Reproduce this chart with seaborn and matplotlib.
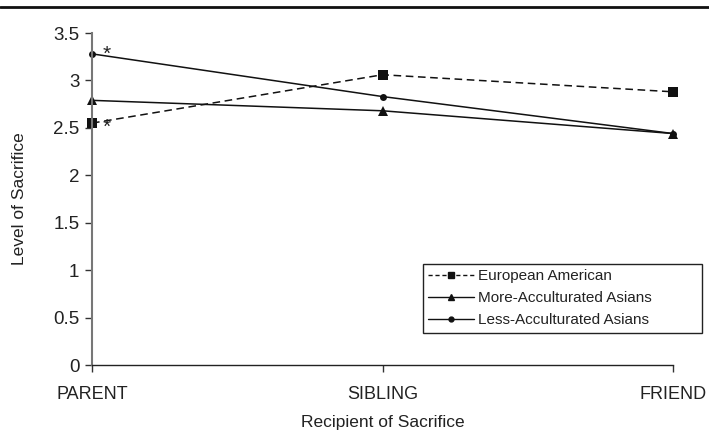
import matplotlib
matplotlib.use("Agg")
import matplotlib.pyplot as plt
import seaborn as sns
import pandas as pd
from matplotlib.lines import Line2D

recipients = ["PARENT", "SIBLING", "FRIEND"]
european_american = [2.55, 3.06, 2.88]
more_acculturated = [2.79, 2.68, 2.44]
less_acculturated = [3.28, 2.83, 2.44]
series_names = ["European American", "More-Acculturated Asians", "Less-Acculturated Asians"]
y_ticks = [0, 0.5, 1, 1.5, 2, 2.5, 3, 3.5]

sns.set_theme(style="white")
plt.rcParams["font.family"] = ["Liberation Sans", "DejaVu Sans"]

rows = []
for name, vals in zip(series_names, [european_american, more_acculturated, less_acculturated]):
    for i, v in enumerate(vals):
        rows.append({"pos": i, "value": v, "group": name})
df = pd.DataFrame(rows)

fig = plt.figure(figsize=(7.09, 4.34), dpi=100)
ax = fig.add_axes([92/709, (434-365)/434, (673-92)/709, (365-33)/434])

sns.lineplot(data=df, x="pos", y="value", hue="group", style="group",
             hue_order=series_names, style_order=series_names,
             palette=["#111111", "#111111", "#111111"],
             markers={"European American": "s", "More-Acculturated Asians": "^",
                      "Less-Acculturated Asians": "o"},
             dashes={"European American": (5, 3), "More-Acculturated Asians": "",
                     "Less-Acculturated Asians": ""},
             markersize=6, linewidth=1.1, markeredgewidth=0, ax=ax, legend=False)

for line, ms in zip(ax.get_lines(), [6.5, 7, 5]):
    line.set_markersize(ms)

ax.set_xlim(0, 2)
ax.set_ylim(0, 3.5)
ax.set_xticks(range(len(recipients)))
ax.set_xticklabels(recipients, fontsize=13, color="#222222")
ax.set_yticks(y_ticks)
ax.set_yticklabels([f"{t:g}" for t in y_ticks], fontsize=13.5, color="#222222")
ax.tick_params(axis="both", direction="out", length=5, width=1, color="#333333",
               bottom=True, left=True, pad=4)
ax.tick_params(axis="x", pad=10)
for s in ["top", "right"]:
    ax.spines[s].set_visible(False)
ax.spines["left"].set_color("#777777")
ax.spines["left"].set_linewidth(1.5)
ax.spines["bottom"].set_color("#222222")
ax.spines["bottom"].set_linewidth(1.0)
ax.set_xlabel("Recipient of Sacrifice", fontsize=12.5, labelpad=9, color="#222222")
ax.set_ylabel("Level of Sacrifice", fontsize=12.5, labelpad=19, color="#222222")
for line in ax.get_lines():
    line.set_clip_on(False)

# asterisks
ax.text(0.05, less_acculturated[0] - 0.01, "*", fontsize=15, ha="center", va="center",
        color="#222222")
ax.text(0.05, european_american[0] - 0.04, "*", fontsize=15, ha="center", va="center",
        color="#222222")

handles = [
    Line2D([], [], color="#111111", linestyle=(0, (3, 2)), marker="s", markersize=4.5, lw=1),
    Line2D([], [], color="#111111", linestyle="-", marker="^", markersize=5, lw=1),
    Line2D([], [], color="#111111", linestyle="-", marker="o", markersize=3.5, lw=1),
]
leg = ax.legend(handles, series_names, loc="upper left",
                bbox_to_anchor=((423-92)/(673-92), (365-264)/(365-33),
                                (702-423)/(673-92), 0.0001),
                mode="expand", fontsize=11, frameon=True, fancybox=False,
                edgecolor="#222222", framealpha=1, handlelength=3.0,
                handletextpad=0.25, borderpad=0.35, labelspacing=0.52,
                borderaxespad=0)
leg.get_frame().set_linewidth(1.0)
for t in leg.get_texts():
    t.set_color("#222222")

fig.add_artist(Line2D([0, 1], [(434-6.5)/434]*2, color="#111111", lw=2,
                      transform=fig.transFigure))

fig.savefig("out.png", dpi=100)
